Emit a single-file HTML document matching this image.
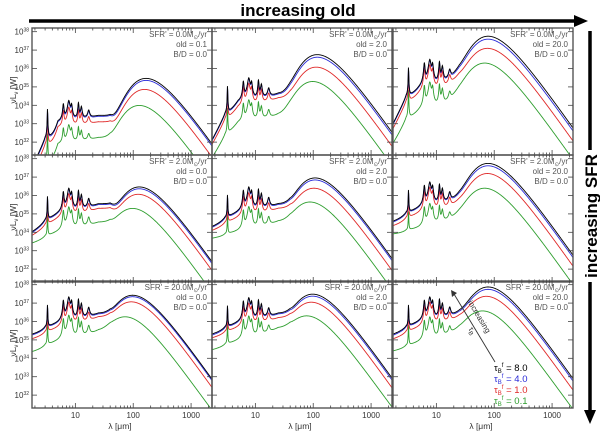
<!DOCTYPE html>
<html><head><meta charset="utf-8"><style>
html,body{margin:0;padding:0;background:#fff}
svg{display:block;font-family:"Liberation Sans",sans-serif}
</style></head><body>
<svg id="c" width="600" height="431" viewBox="0 0 600 431" xmlns="http://www.w3.org/2000/svg">
<g id="top-arrow">
<line x1="29" y1="21" x2="576" y2="21" stroke="#000" stroke-width="3.5"/>
<polygon points="574,15 588,21 574,27" fill="#000"/>
<text x="298" y="16" text-anchor="middle" font-size="17" font-weight="bold">increasing old</text>
</g>
<g>
<line x1="590" y1="31" x2="590" y2="412" stroke="#000" stroke-width="3.5"/>
<polygon points="584,410 590,424 596,410" fill="#000"/>
<rect x="580" y="150" width="20" height="132" fill="#fff"/>
<text transform="translate(597,216) rotate(-90)" text-anchor="middle" font-size="17" font-weight="bold">increasing SFR</text>
</g>
<g id="panels"></g>
</svg>
<script>
const lamMin = 1.78, lamMax = 2300, logMin = 31.3, logMax = 38.2;
const colX = [32, 212, 393], colW = 180;
const rowY = [28, 155, 281], rowH = 127;
const colors = ["#000000", "#2a2ad8", "#e02828", "#2e9e2e"];
const tauLabels = ["8.0", "4.0", "1.0", "0.1"];
const sfrLabels = ["0.0", "2.0", "20.0"];
const oldLabels = [["0.1", "2.0", "20.0"], ["0.0", "2.0", "20.0"], ["0.0", "2.0", "20.0"]];
const xTickVals = [10, 100, 1000];
const yTickVals = [32, 33, 34, 35, 36, 37, 38];
const peakLog = [
 [35.47,35.36,34.87,34.0],[36.76,36.62,36.08,35.3],[37.76,37.6,37.1,36.3],
 [36.47,36.37,36.07,35.3],[36.96,36.85,36.4,35.65],[37.75,37.62,37.2,36.4],
 [37.43,37.35,37.07,36.25],[37.49,37.38,37.05,36.3],[37.88,37.75,37.37,36.57]];
const peakLam = [
 [170,170,160,130],[120,120,115,100],[80,80,78,70],
 [130,130,125,100],[110,110,105,90],[80,80,78,70],
 [100,100,95,75],[100,100,95,80],[80,80,75,65]];
const plateauLog = [
 [33.45,33.4,33.1,32.25],[34.65,34.6,34.4,33.5],[35.85,35.8,35.55,34.65],
 [35.55,35.5,35.3,34.55],[35.55,35.5,35.3,34.6],[35.95,35.9,35.65,34.95],
 [36.45,36.4,36.25,35.5],[36.45,36.4,36.2,35.65],[36.5,36.45,36.25,35.6]];
const pahLog = [
 [34.27,34.2,33.9,32.95],[35.5,35.45,35.2,34.3],[36.5,36.45,36.2,35.27],
 [36.4,36.35,36.1,35.38],[36.47,36.42,36.15,35.4],[36.74,36.7,36.45,35.57],
 [37.34,37.3,37.05,36.34],[37.3,37.25,37.0,36.3],[37.34,37.3,37.05,36.25]];
const shortLog = [
 [28.0,28.0,27.8,27.0],[32.0,31.95,31.8,31.2],[32.6,32.55,32.4,31.8],
 [34.1,34.05,33.9,33.46],[34.37,34.32,34.15,33.7],[34.65,34.6,34.4,33.93],
 [35.35,35.3,35.1,34.4],[35.36,35.3,35.15,34.5],[35.36,35.3,35.1,34.43]];
const midLog = [
 [33.0,32.95,32.7,31.8],[34.0,33.95,33.7,32.9],[34.4,34.35,34.1,33.2],
 [34.8,34.75,34.55,33.85],[34.9,34.85,34.6,33.9],[35.1,35.05,34.8,34.1],
 [35.7,35.65,35.45,34.75],[35.75,35.7,35.5,34.8],[35.8,35.75,35.5,34.7]];
const pahCenters = [3.3, 6.2, 7.7, 8.6, 11.3, 12.7, 17];
const pahRel = [0.45, 0.65, 1.0, 0.55, 0.75, 0.4, 0.2];
const pahFwhm = [0.014, 0.045, 0.09, 0.055, 0.04, 0.06, 0.08];

const NS = "http://www.w3.org/2000/svg";
const panelsG = document.getElementById("panels");
function mk(tag, attrs, parent) { const e = document.createElementNS(NS, tag); for (const k in attrs) e.setAttribute(k, attrs[k]); parent.appendChild(e); return e; }
function xScale(c, lam) { return colX[c] + (Math.log10(lam) - Math.log10(lamMin)) / (Math.log10(lamMax) - Math.log10(lamMin)) * colW; }
function yScale(r, lg) { return rowY[r] + (logMax - lg) / (logMax - logMin) * rowH; }
function interpLog(l, S, C5, Cp) {
  const a = Math.log10(l);
  if (l <= 5) return S + (C5 - S) * (a - Math.log10(2)) / (Math.log10(5) - Math.log10(2));
  if (l <= 25) return C5 + (Cp - C5) * (a - Math.log10(5)) / (Math.log10(25) - Math.log10(5));
  if (l <= 40) return Cp;
  return Cp - 3 * (a - Math.log10(40));
}
const beta = 1.5, xpk = 5.47;
function bbShape(u) { return u > 60 ? 0 : Math.pow(u, 4 + beta) / (Math.exp(u) - 1); }
const bbNorm = bbShape(xpk);
function pahSum(l) { let s = 0; for (let i = 0; i < pahCenters.length; i++) { const hw = pahFwhm[i] * pahCenters[i] / 2; const d = (l - pahCenters[i]) / hw; s += pahRel[i] / (1 + d * d); } return s; }
const pahAt77 = pahSum(7.7);
function curveLog(p, s, l) {
  const base = Math.pow(10, interpLog(l, shortLog[p][s], midLog[p][s], plateauLog[p][s]) - 30);
  const b77 = Math.pow(10, interpLog(7.7, shortLog[p][s], midLog[p][s], plateauLog[p][s]) - 30);
  const A = Math.max(Math.pow(10, pahLog[p][s] - 30) - b77, 0) / pahAt77;
  let pah = A * pahSum(l);
  if (l < 3) pah *= Math.pow(l / 3, 6);
  const u = xpk * peakLam[p][s] / l;
  const u2 = xpk * 0.65 * peakLam[p][s] / l;
  const dust = Math.pow(10, peakLog[p][s] - 30) * (0.93 * bbShape(u) / bbNorm + 0.08 * bbShape(u2) / bbNorm);
  return 30 + Math.log10(base + pah + dust + 1e-12);
}

for (let r = 0; r < 3; r++) for (let c = 0; c < 3; c++) {
  const p = r * 3 + c;
  const g = mk("g", {}, panelsG);
  
  
  const cid = "clip" + p;
  const cp = mk("clipPath", { id: cid }, g);
  mk("rect", { x: colX[c], y: rowY[r], width: colW, height: rowH }, cp);
  const lines = mk("g", { "clip-path": "url(#" + cid + ")" }, g);
  for (let s = 3; s >= 0; s--) {
    let d = "";
    for (let i = 0; i <= 700; i++) {
      const l = Math.pow(10, Math.log10(lamMin) + (Math.log10(lamMax) - Math.log10(lamMin)) * i / 700);
      let v = curveLog(p, s, l); if (v < 25) v = 25;
      d += (i ? "L" : "M") + xScale(c, l).toFixed(2) + "," + yScale(r, v).toFixed(2);
    }
    const path = mk("path", { d: d, fill: "none", stroke: colors[s], "stroke-width": 0.9 }, lines);
    
    
  }
  const fr = mk("rect", { x: colX[c], y: rowY[r], width: colW, height: rowH, fill: "none", stroke: "#555", "stroke-width": 1.4 }, g);
  
  
  for (let dec = 0; dec <= 3; dec++) for (let m = 1; m <= 9; m++) {
    const l = m * Math.pow(10, dec);
    if (l < lamMin || l > lamMax) continue;
    const x = xScale(c, l), len = m === 1 ? 5 : 2.5;
    mk("line", { x1: x, y1: rowY[r] + rowH, x2: x, y2: rowY[r] + rowH - len, stroke: "#444", "stroke-width": 0.8 }, g);
    mk("line", { x1: x, y1: rowY[r], x2: x, y2: rowY[r] + len, stroke: "#444", "stroke-width": 0.8 }, g);
  }
  for (const v of yTickVals) {
    const y = yScale(r, v);
    mk("line", { x1: colX[c], y1: y, x2: colX[c] + 5, y2: y, stroke: "#444", "stroke-width": 0.8 }, g);
    mk("line", { x1: colX[c] + colW, y1: y, x2: colX[c] + colW - 5, y2: y, stroke: "#444", "stroke-width": 0.8 }, g);
    if (c === 0) {
      const t = mk("text", { x: colX[c] - 3, y: y + 3, "text-anchor": "end", "font-size": 8, fill: "#333" }, g);
      
      
      t.innerHTML = '10<tspan font-size="5" dy="-3">' + v + '</tspan>';
    }
  }
  if (r === 2) for (const v of xTickVals) {
    const t = mk("text", { x: xScale(c, v), y: 418, "text-anchor": "middle", "font-size": 8, fill: "#333" }, g);
    
    
    t.textContent = v;
  }
  if (r === 2) {
    const t = mk("text", { x: colX[c] + 88, y: 429, "text-anchor": "middle", "font-size": 8.5, fill: "#333" }, g);
    
    
    t.textContent = "λ [μm]";
  }
  if (c === 0) {
    const t = mk("text", { transform: "translate(16," + (rowY[r] + 62) + ") rotate(-90)", "text-anchor": "middle", "font-size": 8.5, fill: "#333" }, g);
    
    
    t.innerHTML = 'νL<tspan font-size="6" dy="2">ν</tspan><tspan dy="-2"> [W]</tspan>';
  }
  const ax = colX[c] + colW - 5, ay = rowY[r] + 9;
  const a1 = mk("text", { x: ax, y: ay, "text-anchor": "end", "font-size": 8, fill: "#555" }, g);
  
  
  a1.innerHTML = "SFR' = " + sfrLabels[r] + 'M<tspan font-size="5.5" dy="2">⊙</tspan><tspan dy="-2">/yr</tspan>';
  const a2 = mk("text", { x: ax, y: ay + 10, "text-anchor": "end", "font-size": 8, fill: "#555" }, g);
  
  
  a2.textContent = "old  =  " + oldLabels[r][c];
  const a3 = mk("text", { x: ax, y: ay + 20, "text-anchor": "end", "font-size": 8, fill: "#555" }, g);
  
  
  a3.textContent = "B/D  =  0.0";
}
const svg = document.getElementById("c");
const lg = mk("g", {}, svg);


for (let s = 0; s < 4; s++) {
  const t = mk("text", { x: 494, y: 371 + s * 11, "font-size": 9.5, fill: colors[s] }, lg);
  
  
  t.innerHTML = 'τ<tspan font-size="6" dy="2">B</tspan><tspan font-size="6" dy="-6">f</tspan><tspan dy="4"> = ' + tauLabels[s] + '</tspan>';
}
const ar = mk("g", {}, svg);


mk("line", { x1: 495, y1: 362, x2: 454, y2: 294, stroke: "#333", "stroke-width": 0.9 }, ar);
mk("polygon", { points: "451,290 457,293 452,297", fill: "#333" }, ar);
const at = mk("text", { transform: "translate(477,318) rotate(59)", "font-size": 8, fill: "#333", "text-anchor": "middle" }, ar);


at.textContent = "increasing";
const at2 = mk("text", { transform: "translate(470,332) rotate(59)", "font-size": 8, fill: "#333", "text-anchor": "middle" }, ar);


at2.innerHTML = 'τ<tspan font-size="6" dy="2">B</tspan>';
</script>
</body></html>
